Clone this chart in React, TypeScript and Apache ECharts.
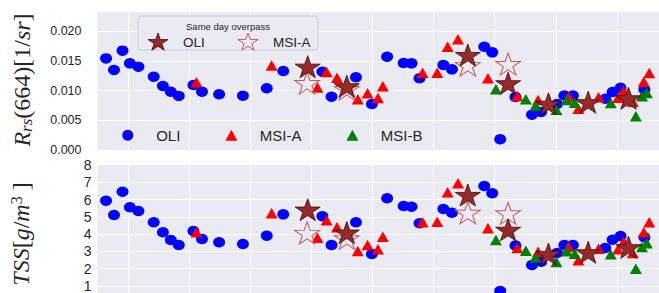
import React, { useEffect, useRef } from "react";
import * as echarts from "echarts";

// x in grid units (vertical grid lines at 1..9)
const xGridLines = [1, 2, 3, 4, 5, 6, 7, 8, 9];
const rrsTicks = [0, 0.005, 0.01, 0.015, 0.02];

const oliX = [0.64, 0.77, 0.91, 1.03, 1.17, 1.42, 1.57, 1.7, 1.83, 2.07, 2.21, 2.49, 2.88, 3.27, 3.54, 4.18, 4.33, 4.73, 4.99, 5.24, 5.51, 5.64, 5.77, 6.16, 6.3, 6.83, 6.96, 7.09, 7.34, 7.61, 7.76, 8.02, 8.14, 8.28, 8.81, 8.93, 9.06, 9.45];
const oliRrs = [0.0154, 0.01345, 0.0167, 0.01457, 0.014, 0.01232, 0.01076, 0.0098, 0.00908, 0.01092, 0.0098, 0.00936, 0.00913, 0.01037, 0.01328, 0.01316, 0.00896, 0.01222, 0.00773, 0.01568, 0.01462, 0.01457, 0.01205, 0.01429, 0.01356, 0.01736, 0.01642, 0.0018, 0.00891, 0.00593, 0.00639, 0.00773, 0.00916, 0.00916, 0.00861, 0.00975, 0.01045, 0.01015];
const oliTss = [5.93, 5.1, 6.45, 5.55, 5.33, 4.68, 4.1, 3.65, 3.36, 4.17, 3.71, 3.52, 3.42, 3.9, 5.14, 5.03, 3.36, 4.68, 2.84, 6.07, 5.62, 5.58, 4.62, 5.45, 5.23, 6.78, 6.36, 0.7, 3.33, 2.2, 2.39, 2.9, 3.36, 3.36, 3.19, 3.67, 3.88, 3.81];

const msiaX = [2.12, 3.35, 4.1, 4.25, 4.42, 4.76, 4.92, 5.09, 5.17, 5.82, 6.06, 6.23, 6.4, 6.89, 7.37, 7.71, 8.21, 8.37, 8.7, 9.02, 9.11, 9.26, 9.44, 9.53];
const msiaRrs = [0.01138, 0.0142, 0.0105, 0.01311, 0.01213, 0.00854, 0.00953, 0.00874, 0.01071, 0.01299, 0.01299, 0.01736, 0.01861, 0.01205, 0.00908, 0.0084, 0.00896, 0.00692, 0.00886, 0.00877, 0.00992, 0.00812, 0.01148, 0.01294];
const msiaTss = [4.1, 5.2, 3.78, 4.79, 4.39, 3.01, 3.36, 3.11, 3.84, 4.68, 4.71, 6.42, 6.94, 4.33, 3.19, 2.97, 3.26, 2.48, 3.14, 3.11, 3.55, 2.9, 4.1, 4.68];

const msibX = [7.02, 7.51, 7.67, 8.01, 8.18, 8.31, 8.9, 9.31, 9.41, 9.49];
const msibRrs = [0.0102, 0.00854, 0.00748, 0.00677, 0.0084, 0.00795, 0.0079, 0.00566, 0.00903, 0.00958];
const msibTss = [3.65, 3.03, 2.65, 2.37, 3.0, 2.86, 2.83, 1.98, 3.25, 3.46];

const sameOliX = [3.94, 4.58, 6.56, 7.22, 7.88, 8.53, 9.19];
const sameOliRrs = [0.014, 0.01071, 0.01597, 0.01121, 0.00776, 0.00803, 0.00869];
const sameOliTss = [5.41, 4.08, 6.26, 4.24, 2.84, 2.94, 3.23];

const sameMsiaX = [3.93, 4.58, 6.56, 7.22];
const sameMsiaRrs = [0.01126, 0.01025, 0.01429, 0.01445];
const sameMsiaTss = [4.06, 3.75, 5.23, 5.2];

const STAR =
  "path://M0,-100L22.45,-30.9L95.11,-30.9L36.33,11.8L58.78,80.9L0,38.2L-58.78,80.9L-36.33,11.8L-95.11,-30.9L-22.45,-30.9Z";

const BLUE = "#0000ff";
const RED = "#ff0000";
const GREEN = "#008000";
const STAR_FILL = "#982a2a";
const STAR_EDGE = "#3a0808";
const HOLLOW_EDGE = "#c25b5b";
const TXT = "#262626";

function pts(xs: number[], ys: number[]) {
  return xs.map((x, i) => [x, ys[i]]);
}

function starPoints(cx: number, cy: number, rx: number, ry: number) {
  const p: number[][] = [];
  for (let k = 0; k < 10; k++) {
    const a = -Math.PI / 2 + (k * Math.PI) / 5;
    const r = k % 2 === 0 ? 1 : 0.382;
    p.push([cx + Math.cos(a) * rx * r, cy + Math.sin(a) * ry * r]);
  }
  return p;
}

function gridLineSeries(idx: number) {
  return {
    type: "scatter",
    xAxisIndex: idx,
    yAxisIndex: idx,
    data: [],
    silent: true,
    z: 1,
    markLine: {
      silent: true,
      z: 1,
      symbol: ["none", "none"],
      label: { show: false },
      lineStyle: { color: "#ffffff", width: 1, type: "solid" },
      emphasis: { disabled: true },
      data: xGridLines.map((v) => ({ xAxis: v })),
    },
  };
}

function groupSeries(idx: number, oli: number[], msia: number[], msib: number[], sOli: number[], sMsia: number[]) {
  return [
    {
      name: "OLI",
      type: "scatter",
      xAxisIndex: idx,
      yAxisIndex: idx,
      symbol: "circle",
      symbolSize: [12, 10.5],
      itemStyle: { color: BLUE, opacity: 1 },
      z: 2,
      data: pts(oliX, oli),
    },
    {
      name: "MSI-A",
      type: "scatter",
      xAxisIndex: idx,
      yAxisIndex: idx,
      symbol: "triangle",
      symbolSize: [12, 10.5],
      itemStyle: { color: RED, opacity: 1 },
      z: 3,
      data: pts(msiaX, msia),
    },
    {
      name: "MSI-B",
      type: "scatter",
      xAxisIndex: idx,
      yAxisIndex: idx,
      symbol: "triangle",
      symbolSize: [12, 10.5],
      itemStyle: { color: GREEN, opacity: 1 },
      z: 4,
      data: pts(msibX, msib),
    },
    {
      name: "Same day MSI-A",
      type: "scatter",
      xAxisIndex: idx,
      yAxisIndex: idx,
      symbol: STAR,
      symbolSize: [25, 22],
      itemStyle: { color: "rgba(255,255,255,0)", borderColor: HOLLOW_EDGE, borderWidth: 1, opacity: 1 },
      z: 5,
      data: pts(sameMsiaX, sMsia),
    },
    {
      name: "Same day OLI",
      type: "scatter",
      xAxisIndex: idx,
      yAxisIndex: idx,
      symbol: STAR,
      symbolSize: [25, 22],
      itemStyle: { color: STAR_FILL, borderColor: STAR_EDGE, borderWidth: 0.8, opacity: 1 },
      z: 6,
      data: pts(sameOliX, sOli),
    },
  ];
}

const mathRich = {
  it: { fontFamily: "Liberation Serif", fontStyle: "italic", fontSize: 24, lineHeight: 26, fill: TXT, color: TXT },
  rm: { fontFamily: "Liberation Serif", fontSize: 24, lineHeight: 26, fill: TXT, color: TXT },
  sub: { fontFamily: "Liberation Serif", fontStyle: "italic", fontSize: 17, lineHeight: 14, verticalAlign: "bottom", fill: TXT, color: TXT },
  sup: { fontFamily: "Liberation Serif", fontSize: 16, lineHeight: 12, verticalAlign: "top", fill: TXT, color: TXT },
};

const xAxisBase = {
  type: "value",
  min: 0.5,
  max: 10,
  axisLine: { show: false },
  axisTick: { show: false },
  axisLabel: { show: false },
  splitLine: { show: false },
};

const option = {
  animation: false,
  backgroundColor: "#ffffff",
  grid: [
    { left: 97.5, top: 12, width: 580.5, height: 138, show: true, backgroundColor: "#EAEAF2", borderWidth: 0 },
    { left: 97.5, top: 165, width: 580.5, height: 138, show: true, backgroundColor: "#EAEAF2", borderWidth: 0 },
  ],
  xAxis: [
    { ...xAxisBase, gridIndex: 0 },
    { ...xAxisBase, gridIndex: 1 },
  ],
  yAxis: [
    {
      gridIndex: 0,
      type: "value",
      min: rrsTicks[0],
      max: 0.0232,
      interval: 0.005,
      axisLine: { show: false },
      axisTick: { show: false },
      axisLabel: {
        showMaxLabel: false,
        margin: 16,
        fontSize: 12.5,
        color: TXT,
        fontFamily: "Liberation Sans",
        formatter: (v: number) => v.toFixed(3),
      },
      splitLine: { show: true, showMaxLine: false, lineStyle: { color: "#ffffff", width: 1 } },
    },
    {
      gridIndex: 1,
      type: "value",
      min: 0,
      max: 8,
      interval: 1,
      axisLine: { show: false },
      axisTick: { show: false },
      axisLabel: { showMinLabel: false, margin: 6, fontSize: 14, color: TXT, fontFamily: "Liberation Sans" },
      splitLine: { show: true, showMaxLine: false, lineStyle: { color: "#ffffff", width: 1 } },
    },
  ],
  legend: {
    left: 122.3,
    top: 127.8,
    padding: 0,
    itemWidth: 12,
    itemHeight: 11,
    itemGap: 45,
    selectedMode: false,
    textStyle: { fontSize: 15, color: TXT, fontFamily: "Liberation Sans", padding: [0, 0, 0, 17.4] },
    data: [
      { name: "OLI", icon: "circle" },
      { name: "MSI-A", icon: "triangle" },
      { name: "MSI-B", icon: "triangle" },
    ],
  },
  graphic: [
    {
      type: "rect",
      z: 100,
      shape: { x: 138, y: 16, width: 180, height: 34, r: 3 },
      style: { fill: "#EAEAF2", stroke: "#CCCCCC", lineWidth: 1 },
    },
    {
      type: "text",
      z: 101,
      x: 228,
      y: 26,
      style: { text: "Same day overpass", fontSize: 9.5, fontFamily: "Liberation Sans", fill: TXT, align: "center", verticalAlign: "middle" },
    },
    {
      type: "polygon",
      z: 101,
      shape: { points: starPoints(158, 42.5, 10.5, 9.5) },
      style: { fill: STAR_FILL, stroke: STAR_EDGE, lineWidth: 0.8 },
    },
    {
      type: "text",
      z: 101,
      x: 183,
      y: 42,
      style: { text: "OLI", fontSize: 13.5, fontFamily: "Liberation Sans", fill: TXT, align: "left", verticalAlign: "middle" },
    },
    {
      type: "polygon",
      z: 101,
      shape: { points: starPoints(248, 42.5, 10.5, 9.5) },
      style: { fill: "none", stroke: HOLLOW_EDGE, lineWidth: 1 },
    },
    {
      type: "text",
      z: 101,
      x: 273,
      y: 42,
      style: { text: "MSI-A", fontSize: 13.5, fontFamily: "Liberation Sans", fill: TXT, align: "left", verticalAlign: "middle" },
    },
    {
      type: "text",
      z: 101,
      x: 22,
      y: 80,
      rotation: Math.PI / 2,
      style: {
        text: "{it|R}{sub|rs}{rm|(664)[1/}{it|sr}{rm|]}",
        rich: mathRich,
        align: "center",
        verticalAlign: "middle",
        fill: TXT,
      },
    },
    {
      type: "text",
      z: 101,
      x: 21,
      y: 234,
      rotation: Math.PI / 2,
      style: {
        text: "{it|TSS}{rm|[}{it|g}{rm|/}{it|m}{sup|3}{rm| ]}",
        rich: mathRich,
        align: "center",
        verticalAlign: "middle",
        fill: TXT,
      },
    },
  ],
  series: [
    gridLineSeries(0),
    gridLineSeries(1),
    ...groupSeries(0, oliRrs, msiaRrs, msibRrs, sameOliRrs, sameMsiaRrs),
    ...groupSeries(1, oliTss, msiaTss, msibTss, sameOliTss, sameMsiaTss),
  ],
};

export default function App() {
  const ref = useRef<HTMLDivElement>(null);
  useEffect(() => {
    if (!ref.current) return;
    const chart = echarts.init(ref.current, null, { renderer: "svg" });
    chart.setOption(option as any);
    return () => chart.dispose();
  }, []);
  return (
    <div style={{ position: "absolute", left: 0, top: 0, width: 659, height: 293, overflow: "hidden", background: "#ffffff" }}>
      <div ref={ref} style={{ width: 690, height: 320 }} />
    </div>
  );
}
